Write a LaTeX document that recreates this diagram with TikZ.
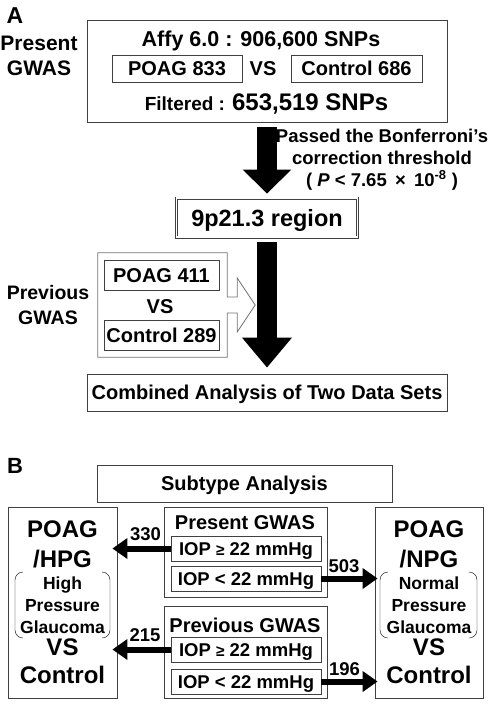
\documentclass[tikz,border=0pt]{standalone}
\usepackage{fontspec}
\setmainfont{Liberation Sans}
\usetikzlibrary{arrows.meta,calc}
\newcommand{\fsz}[1]{\fontsize{#1}{#1}\selectfont}

\begin{document}
\begin{tikzpicture}[x=1pt,y=-1pt,
  every node/.style={font=\bfseries\fsz{20}, inner sep=0pt},
  box/.style={draw=black!75, line width=0.8pt},
  txtbox/.style={box, text height=14pt, text depth=0pt},
  iopbox/.style={box, font=\bfseries\fsz{18.5}, text height=13pt, text depth=0pt,
    minimum width=150pt, minimum height=25pt},
  bigarrow/.style={line width=20pt},
  numarrow/.style={line width=6pt, -{Triangle[length=15pt,width=20pt]}},
  num/.style={font=\bfseries\fsz{18.5}, anchor=base},
  big/.style={font=\bfseries\fontsize{24}{30}\selectfont},
  small/.style={font=\bfseries\fontsize{17.5}{22}\selectfont}]
\useasboundingbox (0,0) rectangle (492,705);

% panel A
\node[font=\bfseries\fsz{23}, anchor=base] (labA) at (15,23) {A};
\node[box, minimum width=360pt, minimum height=102pt] (present) at (267,71) {};
\node[anchor=base, font=\bfseries\fsz{21.5}] (affy) at (261,46) {Affy 6.0 : 906,600 SNPs};
\node[txtbox, minimum width=130pt, minimum height=27pt] (poag1) at (177,68.5) {POAG 833};
\node[text height=14pt, text depth=0pt] (vs1) at (263,68.5) {VS};
\node[txtbox, minimum width=131pt, minimum height=27pt] (ctrl1) at (356.5,68.5) {Control 686};
\node[anchor=base] (filt) at (266.5,110) {\fsz{19}Filtered : \fsz{24}653,519 SNPs};
\node[font=\bfseries\fontsize{21}{25}\selectfont, align=center, anchor=north] (presA) at (39,35.5) {Present\\GWAS};

\node[font=\bfseries\fontsize{18.5}{22}\selectfont, align=center, anchor=north] (bonf) at (382,128.5)
  {Passed the Bonferroni's\\correction threshold\\( \textit{P} < 7.65 \,×\, 10\textsuperscript{-8} )};

\node[box, double, double distance=1.6pt, line width=0.7pt, minimum width=181pt, minimum height=39pt,
  font=\bfseries\fsz{23.5}, text height=17pt, text depth=0pt] (region) at (267,217.5) {9p21.3 region};
\draw[bigarrow, -{Triangle[length=24pt,width=47pt]}, shorten <=5pt, shorten >=4pt] (present.south) -- (region.north);

% previous GWAS
\node[txtbox, minimum width=115pt, minimum height=30pt] (poag2) at (161.5,275) {POAG 411};
\node[text height=14pt, text depth=0pt] (vs2) at (160,306) {VS};
\node[txtbox, minimum width=115pt, minimum height=30pt] (ctrl2) at (161.5,335) {Control 289};
\node[minimum width=129pt, minimum height=104pt] (prevframe) at (162.5,305) {};
\draw[box, draw=black!55] (prevframe.north west) -- (prevframe.north east) -- ($(prevframe.east)+(0,-8)$)
  -- ++(10,0) -- ++(0,-19) -- ($(prevframe.east)+(28,0)$) -- ($(prevframe.east)+(10,27)$)
  -- ++(0,-19) -- ($(prevframe.east)+(0,8)$) -- (prevframe.south east) -- (prevframe.south west) -- cycle;
\node[font=\bfseries\fontsize{19.5}{25}\selectfont, align=center, anchor=north] (prevA) at (48,284.7) {Previous\\GWAS};

\node[txtbox, minimum width=360pt, minimum height=37pt] (combined) at (267,392.5) {Combined Analysis of Two Data Sets};
\draw[bigarrow, -{Triangle[length=30pt,width=48pt]}, shorten <=5pt, shorten >=6pt] (region.south) -- (combined.north);

% panel B
\node[font=\bfseries\fsz{22}, anchor=base] (labB) at (15,473) {B};
\node[txtbox, minimum width=295pt, minimum height=37pt] (subtype) at (244.5,483.5) {Subtype Analysis};

\node[box, minimum width=109pt, minimum height=191pt] (hpg) at (62.5,602.5) {};
\node[big, align=center, anchor=north] (hpgname) at (62.5,520.5) {POAG\\/HPG};
\node[small, align=center, anchor=north] (hpgfull) at (62.5,576.5) {High\\Pressure\\Glaucoma};
\node[big, anchor=base] (hpgvs) at (62.5,655) {VS};
\node[big, anchor=base] (hpgctrl) at (62.5,683) {Control};
\draw[rounded corners=8pt] (23,572) -- (15,572) -- (15,638) -- (23,638);
\draw[rounded corners=8pt] (102,572) -- (110,572) -- (110,638) -- (102,638);

\node[box, minimum width=108pt, minimum height=191pt] (npg) at (429,602.5) {};
\node[big, align=center, anchor=north] (npgname) at (429,520.5) {POAG\\/NPG};
\node[small, align=center, anchor=north] (npgfull) at (429,576.5) {Normal\\Pressure\\Glaucoma};
\node[big, anchor=base] (npgvs) at (429,655) {VS};
\node[big, anchor=base] (npgctrl) at (429,683) {Control};
\draw[rounded corners=8pt] (388,572) -- (380,572) -- (380,638) -- (388,638);
\draw[rounded corners=8pt] (469,572) -- (477,572) -- (477,638) -- (469,638);

\node[box, minimum width=163pt, minimum height=90pt] (presB) at (245.5,552) {};
\node[anchor=base] (presBt) at (245,529) {Present GWAS};
\node[iopbox] (hiP) at (246,548.5) {IOP {\fsz{15.5}≥} 22 mmHg};
\node[iopbox] (loP) at (246,578.5) {IOP < 22 mmHg};

\node[box, minimum width=163pt, minimum height=92pt] (prevB) at (245.5,652) {};
\node[anchor=base] (prevBt) at (245,632) {Previous GWAS};
\node[iopbox] (hiV) at (246,649.5) {IOP {\fsz{15.5}≥} 22 mmHg};
\node[iopbox] (loV) at (246,681.5) {IOP < 22 mmHg};

\draw[numarrow, shorten >=-5pt] (hiP.west) -- (hiP.west -| hpg.east);
\draw[numarrow, shorten >=-5pt] (hiV.west) -- (hiV.west -| hpg.east);
\draw[numarrow, shorten >=-3pt] (loP.east) -- (loP.east -| npg.west);
\draw[numarrow, shorten >=-3pt] (loV.east) -- (loV.east -| npg.west);
\node[num] (n330) at (145.5,540) {330};
\node[num] (n215) at (145,641) {215};
\node[num] (n503) at (344,572) {503};
\node[num] (n196) at (344.5,675) {196};
\end{tikzpicture}
\end{document}
